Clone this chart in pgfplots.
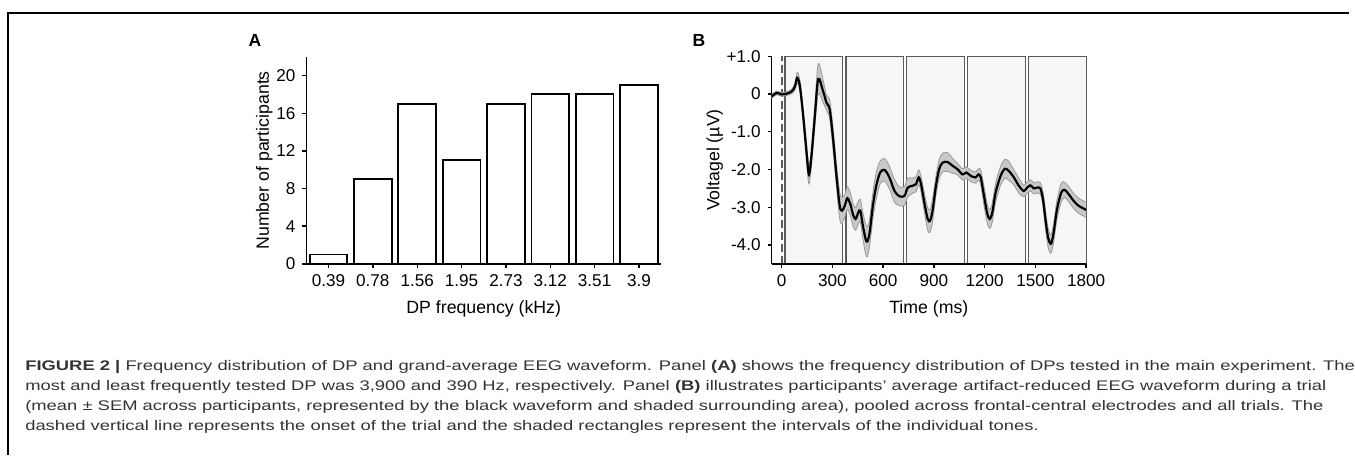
\documentclass[border=0pt]{standalone}
\usepackage{pgfplots}
\pgfplotsset{compat=1.18}
\usepackage{pgfplotstable}
\usepgfplotslibrary{fillbetween}
\usepackage{fontspec}
\setmainfont{Liberation Sans}
\newfontfamily\capfont[FakeStretch=1.32]{Liberation Sans}
\definecolor{CapText}{HTML}{333333}
\definecolor{RectFill}{HTML}{F6F6F6}
\definecolor{RectEdge}{HTML}{5A5A5A}
\definecolor{BandFill}{HTML}{C8C8C8}
\definecolor{BandEdge}{HTML}{9A9A9A}

% panel A: participants per DP frequency
\pgfplotstableread{
idx n
0 1
1 9
2 17
3 11
4 17
5 18
6 18
7 19
}\dpcount

% panel B: grand-average waveform, t (ms), mean (uV), SEM
\pgfplotstableread{
t v e
-59 -0.06 0.05
-29 0.03 0.05
0 -0.01 0.05
29 0.01 0.05
59 0.07 0.06
78 0.20 0.10
92 0.43 0.15
108 0.20 0.15
127 -0.58 0.20
147 -1.55 0.25
161 -2.13 0.25
176 -1.64 0.25
196 -0.58 0.30
216 0.40 0.40
245 0.07 0.30
265 -0.23 0.20
284 -0.41 0.25
304 -1.20 0.30
324 -2.17 0.30
343 -2.96 0.35
357 -3.09 0.35
373 -2.96 0.30
388 -2.76 0.30
406 -2.92 0.30
422 -3.20 0.30
437 -3.31 0.30
453 -3.14 0.30
465 -3.09 0.30
480 -3.49 0.35
496 -3.84 0.40
506 -3.91 0.40
520 -3.67 0.35
539 -2.96 0.35
559 -2.43 0.35
582 -2.08 0.30
608 -2.01 0.30
637 -2.21 0.30
667 -2.57 0.30
696 -2.71 0.25
726 -2.70 0.25
745 -2.48 0.25
775 -2.43 0.20
794 -2.39 0.20
810 -2.21 0.20
824 -2.39 0.20
843 -2.87 0.25
863 -3.31 0.30
877 -3.36 0.30
892 -3.09 0.30
912 -2.43 0.25
931 -1.99 0.25
951 -1.82 0.25
980 -1.80 0.25
1010 -1.90 0.20
1039 -1.99 0.15
1069 -2.13 0.15
1092 -2.08 0.15
1118 -2.17 0.15
1147 -2.21 0.15
1163 -2.13 0.15
1177 -2.21 0.20
1196 -2.70 0.25
1216 -3.18 0.25
1231 -3.31 0.25
1245 -3.14 0.25
1265 -2.61 0.25
1294 -2.17 0.25
1320 -1.98 0.25
1343 -2.04 0.25
1373 -2.21 0.20
1402 -2.43 0.20
1431 -2.57 0.15
1451 -2.48 0.15
1471 -2.42 0.15
1490 -2.50 0.15
1510 -2.48 0.15
1529 -2.50 0.15
1545 -2.79 0.20
1559 -3.31 0.25
1575 -3.80 0.25
1592 -3.97 0.25
1608 -3.67 0.25
1628 -3.05 0.25
1653 -2.61 0.25
1673 -2.54 0.20
1696 -2.65 0.20
1726 -2.83 0.20
1755 -2.96 0.20
1800 -3.07 0.20
}\wave

\pgfplotsset{
  panel/.style={
    scale only axis,anchor=south west,
    axis lines=left,axis line style={-,line width=0.7pt},
    tick style={line width=0.7pt,black},tick align=outside,
    major tick length=2pt,
    tick label style={font=\fontsize{8.6}{10}\selectfont},
    label style={font=\fontsize{8.9}{10}\selectfont},
    ylabel shift=-5pt,
    /pgf/number format/assume math mode=true,
    /pgf/number format/1000 sep={}}}

\begin{document}
\begin{tikzpicture}
\path (0pt,0pt) rectangle (677.5pt,-228.5pt);
\draw[line width=1pt] (4.2pt,-228.5pt) -- (4.2pt,-6.7pt) -- (677.5pt,-6.7pt);

\node[font=\bfseries\fontsize{8.8}{10}\selectfont] at (128pt,-20.5pt) {A};
\node[font=\bfseries\fontsize{8.8}{10}\selectfont] at (351pt,-20.5pt) {B};

\begin{axis}[panel,at={(153.85pt,-132.5pt)},width=178.2pt,height=104pt,
  xmin=-0.5,xmax=7.5,ymin=0,ymax=22,
  xtick={0,...,7},xticklabels={0.39,0.78,1.56,1.95,2.73,3.12,3.51,3.9},
  ytick={0,4,...,20},
  xlabel={DP frequency (kHz)},ylabel={Number of participants},
  ybar,bar width=0.85]
  \addplot[fill=white,draw=black,line width=0.9pt] table[x=idx,y=n] {\dpcount};
\end{axis}

\begin{axis}[panel,set layers,at={(387.5pt,-132.5pt)},width=158pt,height=104.2pt,
  xmin=-60,xmax=1800,ymin=-4.5,ymax=1,clip=false,
  xtick={0,300,...,1800},
  ytick={-4,...,1},yticklabels={-4.0,-3.0,-2.0,-1.0,0,+1.0},
  xlabel={Time (ms)},ylabel={Voltagel (µV)}]
  \addplot[on layer=axis background,fill=RectFill,draw=RectEdge,line width=0.6pt] coordinates {(20,-4.5) (20,1) (360,1) (360,-4.5) (20,-4.5)};
  \addplot[on layer=axis background,fill=RectFill,draw=RectEdge,line width=0.6pt] coordinates {(380,-4.5) (380,1) (720,1) (720,-4.5) (380,-4.5)};
  \addplot[on layer=axis background,fill=RectFill,draw=RectEdge,line width=0.6pt] coordinates {(740,-4.5) (740,1) (1080,1) (1080,-4.5) (740,-4.5)};
  \addplot[on layer=axis background,fill=RectFill,draw=RectEdge,line width=0.6pt] coordinates {(1100,-4.5) (1100,1) (1440,1) (1440,-4.5) (1100,-4.5)};
  \addplot[on layer=axis background,fill=RectFill,draw=RectEdge,line width=0.6pt] coordinates {(1460,-4.5) (1460,1) (1800,1) (1800,-4.5) (1460,-4.5)};
  \addplot[on layer=axis background,color=RectEdge,line width=0.8pt,dash pattern=on 4pt off 2pt] coordinates {(0,-4.5) (0,1)};
  \addplot[name path=up,BandEdge,line width=0.4pt,smooth] table[x=t,y expr=\thisrow{v}+\thisrow{e}] {\wave};
  \addplot[name path=lo,BandEdge,line width=0.4pt,smooth] table[x=t,y expr=\thisrow{v}-\thisrow{e}] {\wave};
  \addplot[BandFill] fill between[of=up and lo];
  \addplot[black,line width=1.1pt,smooth] table[x=t,y=v] {\wave};
\end{axis}

\begin{scope}[every node/.style={anchor=base west,inner sep=0pt,text=CapText,font=\capfont\fontsize{7}{8}\selectfont}]
\node at (12.5pt,-186.15pt) {\textbf{FIGURE 2 |} Frequency distribution of DP and grand-average EEG waveform. Panel \textbf{(A)} shows the frequency distribution of DPs tested in the main experiment. The};
\node at (12.5pt,-196.15pt) {most and least frequently tested DP was 3,900 and 390 Hz, respectively. Panel \textbf{(B)} illustrates participants’ average artifact-reduced EEG waveform during a trial};
\node at (12.5pt,-206.15pt) {(mean ± SEM across participants, represented by the black waveform and shaded surrounding area), pooled across frontal-central electrodes and all trials. The};
\node at (12.5pt,-216.15pt) {dashed vertical line represents the onset of the trial and the shaded rectangles represent the intervals of the individual tones.};
\end{scope}
\end{tikzpicture}
\end{document}
